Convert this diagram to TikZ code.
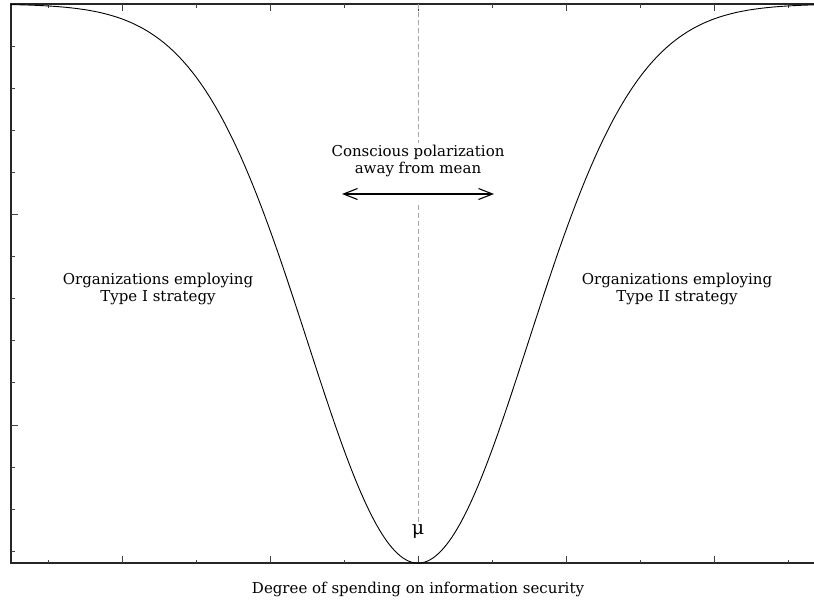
\documentclass[tikz,border=0pt]{standalone}
\usepackage{fontspec}
\setmainfont{DejaVu Serif}
\usetikzlibrary{arrows.meta,positioning}

\begin{document}
\begin{tikzpicture}[x=1pt,y=-1pt,
    frame/.style={line width=1.3pt,draw=black!85},
    tick/.style={line width=1pt,draw=black!75},
    curve/.style={line width=0.9pt,draw=black},
    txt/.style={align=center,inner sep=2pt,font=\fontsize{15}{16.5}\selectfont},
    meanline/.style={dash pattern=on 5pt off 3pt,draw=black!35,line width=0.9pt}]
  \useasboundingbox (0,0) rectangle (814,603);
  \begin{scope}
    \clip (0,0) rectangle (814,603);
    % axis frame
    \draw[frame] (11,4) rectangle (825,563);
    % ticks along bottom and top
    \foreach \k in {0,...,5} {
      \draw[tick] ({48+148*\k},563) -- ++(0,-3.5);
      \draw[tick] ({48+148*\k},4) -- ++(0,3.5);
    }
    \foreach \k in {0,...,4} {
      \draw[tick] ({122+148*\k},563) -- ++(0,-7);
      \draw[tick] ({122+148*\k},4) -- ++(0,7);
    }
    % ticks along the left
    \foreach \k in {1,...,13} {
      \ifnum\k=5 \def\len{7}\else\ifnum\k=10 \def\len{7}\else\def\len{3.5}\fi\fi
      \draw[tick] (11,{4+42.1*\k}) -- ++(\len,0);
    }
    % inverted bell
    \draw[curve] plot[domain=11:825,samples=300,smooth] (\x,{4+559*exp(-((\x-418)/100)^2/2.42)});
  \end{scope}

  \node[txt] (typeone) at (158,289) {Organizations employing\\Type I strategy};
  \node[txt] (typetwo) at (677,289) {Organizations employing\\Type II strategy};
  \node[txt] (polar) at (418,161) {Conscious polarization\\away from mean};
  \coordinate (arrL) at (342,194);
  \coordinate (arrR) at (494,194);
  \draw[line width=1.1pt,{Straight Barb[length=14pt,width=11pt]}-{Straight Barb[length=14pt,width=11pt]}] (arrL) -- (arrR);
  \node[txt,font=\fontsize{19}{20}\selectfont] (mu) at (418,532) {μ};
  \node[txt] (xlabel) at (418,589) {Degree of spending on information security};

  % dashed mean line
  \coordinate (topmean) at (418,4);
  \coordinate (midmean) at (418,205);
  \draw[meanline] (topmean) -- (polar.north);
  \draw[meanline] (midmean) -- (mu.north);
\end{tikzpicture}
\end{document}
